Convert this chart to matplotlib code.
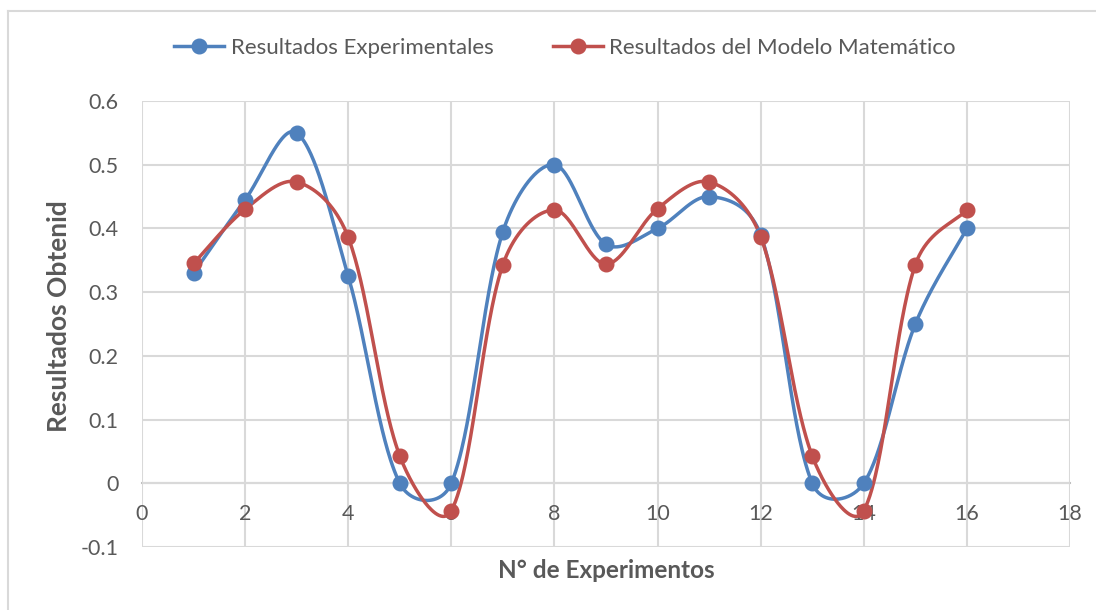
import numpy as np
import matplotlib
matplotlib.use("Agg")
import matplotlib.pyplot as plt
from matplotlib.lines import Line2D

# Data
experimentos = list(range(1, 17))
experimentales = [0.33, 0.445, 0.55, 0.325, 0.0, 0.0, 0.395, 0.50,
                  0.375, 0.40, 0.45, 0.39, 0.0, 0.0, 0.25, 0.40]
modelo = [0.345, 0.43, 0.473, 0.386, 0.043, -0.043, 0.343, 0.429,
          0.344, 0.431, 0.473, 0.387, 0.043, -0.043, 0.343, 0.429]
x_ticks = list(range(0, 19, 2))
y_ticks = [-0.1, 0, 0.1, 0.2, 0.3, 0.4, 0.5, 0.6]
y_ticklabels = ["-0.1", "0", "0.1", "0.2", "0.3", "0.4", "0.5", "0.6"]

BLUE = "#4F81BD"
RED = "#C0504D"
GRID = "#D9D9D9"
TXT = "#595959"


def smooth(ax, xs, ys, n=60):
    """Bezier smoothing through every point, handles computed in display space."""
    tr = ax.transData
    p = tr.transform(np.column_stack([xs, ys]).astype(float))
    m = len(p)

    def handle(a, b, c, seg):
        # tangent at b, scaled by the neighbouring segment lengths
        d_ab = np.hypot(*(b - a))
        d_bc = np.hypot(*(c - b))
        tot = d_ab + d_bc
        if tot == 0:
            return np.zeros(2)
        w = (d_bc if seg == "out" else d_ab) / tot
        f = np.sqrt((1.0 / 6.0) * (w / 3.0))
        return (c - a) * f

    out = []
    for i in range(m - 1):
        p0 = p[i - 1] if i > 0 else p[i]
        p1, p2 = p[i], p[i + 1]
        p3 = p[i + 2] if i + 2 < m else p[i + 1]
        c1 = p1 + handle(p0, p1, p2, "out")
        c2 = p2 - handle(p1, p2, p3, "in")
        t = np.linspace(0, 1, n)[:, None]
        seg = ((1 - t) ** 3) * p1 + 3 * ((1 - t) ** 2) * t * c1 \
            + 3 * (1 - t) * t ** 2 * c2 + t ** 3 * p2
        out.append(seg if i == 0 else seg[1:])
    s = tr.inverted().transform(np.vstack(out))
    return s[:, 0], s[:, 1]


plt.rcParams["font.family"] = ["Lato", "DejaVu Sans"]

fig = plt.figure(figsize=(10.96, 6.10), dpi=100)
W, H = 1096, 610
ax = fig.add_axes([142 / W, 1 - 547 / H, (1070 - 142) / W, (547 - 101) / H])
ax.set_xlim(0, 18)
ax.set_ylim(-0.1, 0.6)

for ys, c in ((experimentales, BLUE), (modelo, RED)):
    sx, sy = smooth(ax, experimentos, ys)
    ax.plot(sx, sy, color=c, lw=2.5, solid_capstyle="round", zorder=3)
    ax.plot(experimentos, ys, "o", color=c, ms=10.5, zorder=4)

ax.set_xlim(0, 18)
ax.set_ylim(-0.1, 0.6)
ax.set_xticks(x_ticks)
ax.set_yticks(y_ticks)
ax.set_yticklabels(y_ticklabels)
ax.grid(True, color=GRID, lw=1.5, zorder=0)
for s in ("top", "right", "left"):
    ax.spines[s].set_visible(False)
ax.spines["bottom"].set_position(("data", 0))
ax.spines["bottom"].set_color("#BFBFBF")
ax.spines["bottom"].set_linewidth(1.5)
ax.spines["bottom"].set_zorder(1)
ax.tick_params(axis="both", length=0, labelsize=15.5, labelcolor=TXT)
ax.tick_params(axis="x", pad=15)
ax.tick_params(axis="y", pad=17)

fig.text(606 / W, 1 - 570 / H, "N° de Experimentos", ha="center", va="center",
         fontsize=17.5, fontweight="bold", color=TXT)
fig.text(59 / W, 1 - 316 / H, "Resultados Obtenid", ha="center", va="center",
         rotation=90, fontsize=19, fontweight="bold", color=TXT)

handles = [Line2D([], [], color=BLUE, lw=2.5, marker="o", ms=10.5),
           Line2D([], [], color=RED, lw=2.5, marker="o", ms=10.5)]
fig.legend(handles, ["Resultados Experimentales", "Resultados del Modelo Matemático"],
           loc="center", bbox_to_anchor=(565 / W, 1 - 48 / H), ncol=2, frameon=False,
           fontsize=16, labelcolor=TXT, handlelength=2.25, handletextpad=0.3,
           columnspacing=2.65)

# chart area border
fig.add_artist(Line2D([8 / W, 1], [1 - 11 / H, 1 - 11 / H], color="#D9D9D9", lw=1.5))
fig.add_artist(Line2D([8 / W, 8 / W], [0, 1 - 11 / H], color="#D9D9D9", lw=1.5))

fig.savefig("out.png", dpi=100, facecolor="white")
